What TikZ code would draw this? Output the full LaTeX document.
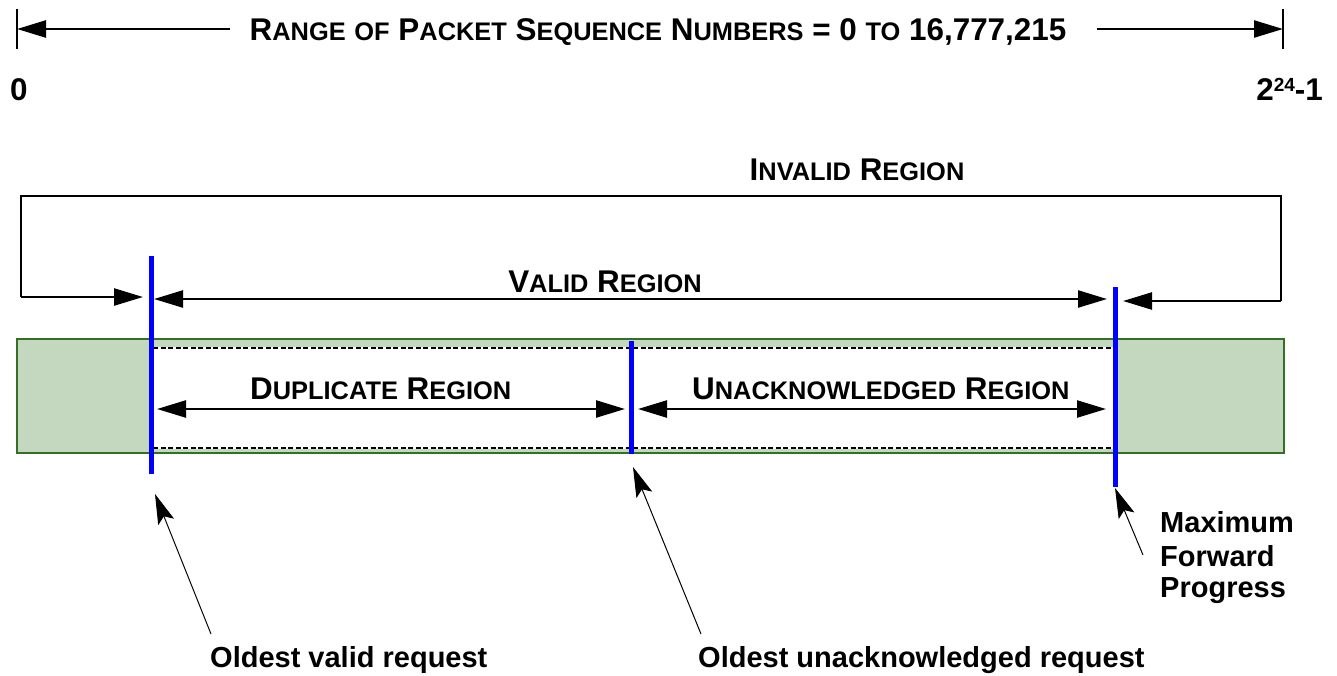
\documentclass[tikz,border=0pt]{standalone}
\usepackage{fontspec}
\setmainfont{Liberation Sans}
\usetikzlibrary{arrows.meta}
\definecolor{boxfill}{RGB}{196,216,192}
\definecolor{boxline}{RGB}{52,112,36}
\definecolor{markblue}{RGB}{0,0,255}
\newcommand\smc[1]{{\fontsize{25.4}{25.4}\selectfont #1}}
\tikzset{
  big/.style={font=\fontsize{31.4}{31.4}\selectfont\bfseries, inner sep=0pt},
  lbl/.style={font=\fontsize{29}{29}\selectfont\bfseries, inner sep=0pt},
  heavy/.style={line width=2.4pt, black},
  harrow/.style={heavy, -{Triangle[length=29pt,width=17pt]}},
  darrow/.style={heavy, {Triangle[length=29pt,width=17pt]}-{Triangle[length=29pt,width=17pt]}},
  pointer/.style={line width=1pt, black, -{Stealth[length=30pt,width=17pt,inset=6pt]}},
  marker/.style={line width=5pt, markblue},
  dashline/.style={line width=1.6pt, black, dash pattern=on 5pt off 2.5pt}
}
\begin{document}
\begin{tikzpicture}[x=1pt,y=-1pt]
\useasboundingbox (0,0) rectangle (1337,675);

% ---- top range ----
\coordinate (tl1) at (17,9);  \coordinate (tl2) at (17,49);
\coordinate (tr1) at (1283,9); \coordinate (tr2) at (1283,49);
\coordinate (leftend) at (17,29); \coordinate (rightend) at (1283,29);
\coordinate (ltail) at (230,29); \coordinate (rtail) at (1097,29);
\draw[heavy] (tl1) -- (tl2);
\draw[heavy] (tr1) -- (tr2);
\draw[harrow] (ltail) -- (leftend);
\draw[harrow] (rtail) -- (rightend);
\node[big, anchor=base] (title) at (658,40)
  {R\smc{ANGE} \smc{OF} P\smc{ACKET} S\smc{EQUENCE} N\smc{UMBERS} = 0 \smc{TO} 16,777,215};
\node[big, anchor=base west] (zero) at (10,100) {0};
\node[big, anchor=base east] (max) at (1323,100)
  {2\raisebox{9pt}{\fontsize{19}{19}\selectfont 24}-1};

% ---- sequence box ----
\path[fill=boxfill, draw=boxline, line width=2.2pt] (17,339) rectangle (1284,453);
\fill[white] (153,347) rectangle (1113,449);
\coordinate (dtl) at (153,348); \coordinate (dtr) at (1113,348);
\coordinate (dbl) at (153,448); \coordinate (dbr) at (1113,448);
\draw[dashline] (dtl) -- (dtr);
\draw[dashline] (dbl) -- (dbr);

% ---- invalid region bracket ----
\node[big, anchor=base] (invalid) at (857,180) {I\smc{NVALID} R\smc{EGION}};
\coordinate (ibl) at (21,297);
\coordinate (itl) at (21,196);
\coordinate (itr) at (1281,196);
\coordinate (ibr) at (1281,301);
\coordinate (ilt) at (143,297);
\coordinate (irt) at (1123,301);
\draw[heavy, line join=miter] (ibl) -- (itl) -- (itr) -- (ibr);
\draw[harrow] (ibl) -- (ilt);
\draw[harrow] (ibr) -- (irt);

% ---- valid region ----
\node[big, anchor=base] (valid) at (605,292) {V\smc{ALID} R\smc{EGION}};
\coordinate (vl) at (154,299); \coordinate (vr) at (1107,299);
\draw[darrow] (vl) -- (vr);

% ---- duplicate / unacknowledged ----
\node[big, anchor=base west] (dup) at (250,399) {D\smc{UPLICATE} R\smc{EGION}};
\node[big, anchor=base west] (unack) at (692,399) {U\smc{NACKNOWLEDGED} R\smc{EGION}};
\coordinate (dl) at (157,409); \coordinate (dr) at (625,409);
\coordinate (ul) at (638,409); \coordinate (ur) at (1106,409);
\draw[darrow] (dl) -- (dr);
\draw[darrow] (ul) -- (ur);

% ---- blue markers ----
\coordinate (b1t) at (151,256); \coordinate (b1b) at (151,474);
\coordinate (b2t) at (631,341); \coordinate (b2b) at (631,454);
\coordinate (b3t) at (1115,287); \coordinate (b3b) at (1115,487);
\draw[marker] (b1t) -- (b1b);
\draw[marker] (b2t) -- (b2b);
\draw[marker] (b3t) -- (b3b);

% ---- pointers and labels ----
\node[lbl, anchor=base west] (ovr) at (210,667) {Oldest valid request};
\node[lbl, anchor=base west] (our) at (698,667) {Oldest unacknowledged request};
\node[lbl, anchor=base west] (mfp1) at (1160,532) {Maximum};
\node[lbl, anchor=base west] (mfp2) at (1160,566) {Forward};
\node[lbl, anchor=base west] (mfp3) at (1160,597) {Progress};
\coordinate (p1tail) at (211,634); \coordinate (p1tip) at (155,494);
\coordinate (p2tail) at (701,634); \coordinate (p2tip) at (633,467);
\coordinate (p3tail) at (1143,555); \coordinate (p3tip) at (1115,488);
\draw[pointer] (p1tail) -- (p1tip);
\draw[pointer] (p2tail) -- (p2tip);
\draw[pointer] (p3tail) -- (p3tip);
\end{tikzpicture}
\end{document}
